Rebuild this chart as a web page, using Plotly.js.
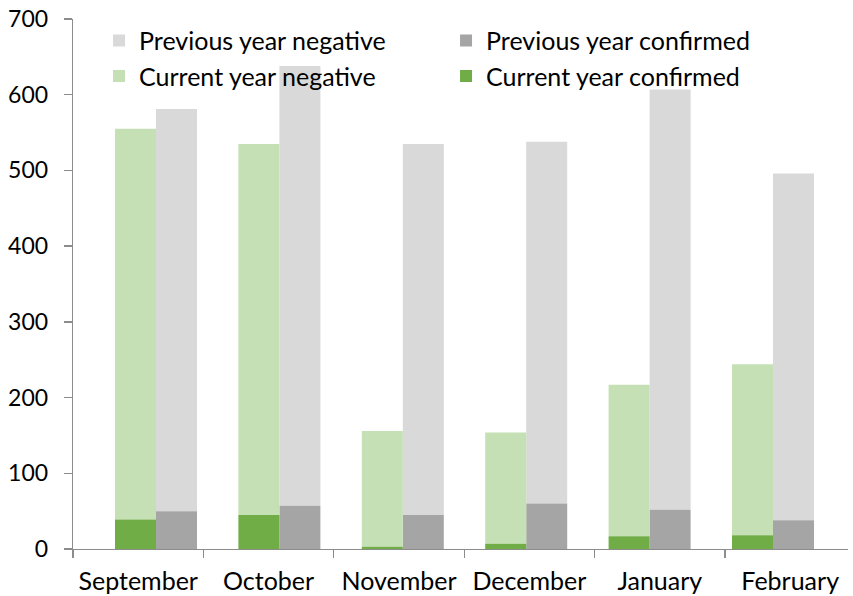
<!DOCTYPE html>
<html>
<head>
<meta charset="utf-8">
<script src="https://cdn.plot.ly/plotly-3.0.1.min.js"></script>
<style>
html, body { margin: 0; padding: 0; overflow: hidden; background: #fff; }
#chart { width: 853px; height: 596px; }
</style>
</head>
<body>
<div id="chart"></div>
<script>
const months = ["September", "October", "November", "December", "January", "February"];
const prevConfirmed = [50, 57, 45, 60, 52, 38];
const prevNegative = [531, 581, 490, 478, 555, 458];
const curConfirmed = [39, 45, 3, 7, 17, 18];
const curNegative = [516, 490, 153, 147, 200, 226];
const yTicks = [0, 100, 200, 300, 400, 500, 600, 700];

// bar groups sit on category index positions; label slots are slightly wider
const idx = months.map((m, i) => i);
const BW = 0.3323;
const R0 = -0.6726, R1 = 5.6078;
const SLOT = 1.0567;
const labelPos = idx.map(i => R0 + (i + 0.5) * SLOT);

const axisColor = "#8c8c8c";
const font = { family: "Lato, 'DejaVu Sans', sans-serif", size: 23, color: "#000000" };
const legFont = { family: "Lato, 'DejaVu Sans', sans-serif", size: 25, color: "#000000" };

const traces = [
  { type: "bar", name: "Previous year negative", x: idx, y: prevNegative, base: prevConfirmed,
    offset: 0, width: BW, marker: { color: "#D9D9D9" }, hoverinfo: "skip" },
  { type: "bar", name: "Previous year confirmed", x: idx, y: prevConfirmed,
    offset: 0, width: BW, marker: { color: "#A5A5A5" }, hoverinfo: "skip" },
  { type: "bar", name: "Current year negative", x: idx, y: curNegative, base: curConfirmed,
    offset: -BW, width: BW, marker: { color: "#C5E0B4" }, hoverinfo: "skip" },
  { type: "bar", name: "Current year confirmed", x: idx, y: curConfirmed,
    offset: -BW, width: BW, marker: { color: "#70AD47" }, hoverinfo: "skip" }
];

const layout = {
  width: 853, height: 596,
  margin: { l: 73, r: 5, t: 19, b: 47, pad: 0 },
  paper_bgcolor: "#ffffff", plot_bgcolor: "#ffffff",
  font: font,
  barmode: "overlay",
  showlegend: true,
  legend: {
    orientation: "h", x: 0.0336, y: 1.0025, xanchor: "left", yanchor: "top",
    entrywidth: 302, entrywidthmode: "pixels", traceorder: "normal",
    font: legFont, bgcolor: "rgba(0,0,0,0)"
  },
  xaxis: {
    type: "linear", range: [R0, R1],
    tickmode: "array", tickvals: labelPos, ticktext: months,
    ticks: "", showgrid: false, zeroline: false,
    showline: true, linecolor: axisColor, linewidth: 1.3,
    minor: { tickmode: "linear", tick0: R0, dtick: SLOT, ticks: "outside", ticklen: 8, tickwidth: 1.3, tickcolor: axisColor, showgrid: false },
    ticklabelstandoff: 10, tickfont: legFont, fixedrange: true
  },
  yaxis: {
    range: [0, 700], tickmode: "array", tickvals: yTicks,
    ticks: "outside", ticklen: 8, tickwidth: 1.3, tickcolor: axisColor,
    showline: true, linecolor: axisColor, linewidth: 1.3,
    showgrid: false, zeroline: false,
    ticklabelstandoff: 11, tickfont: font, fixedrange: true
  }
};

Plotly.newPlot("chart", traces, layout, { displayModeBar: false, staticPlot: true });
</script>
</body>
</html>
